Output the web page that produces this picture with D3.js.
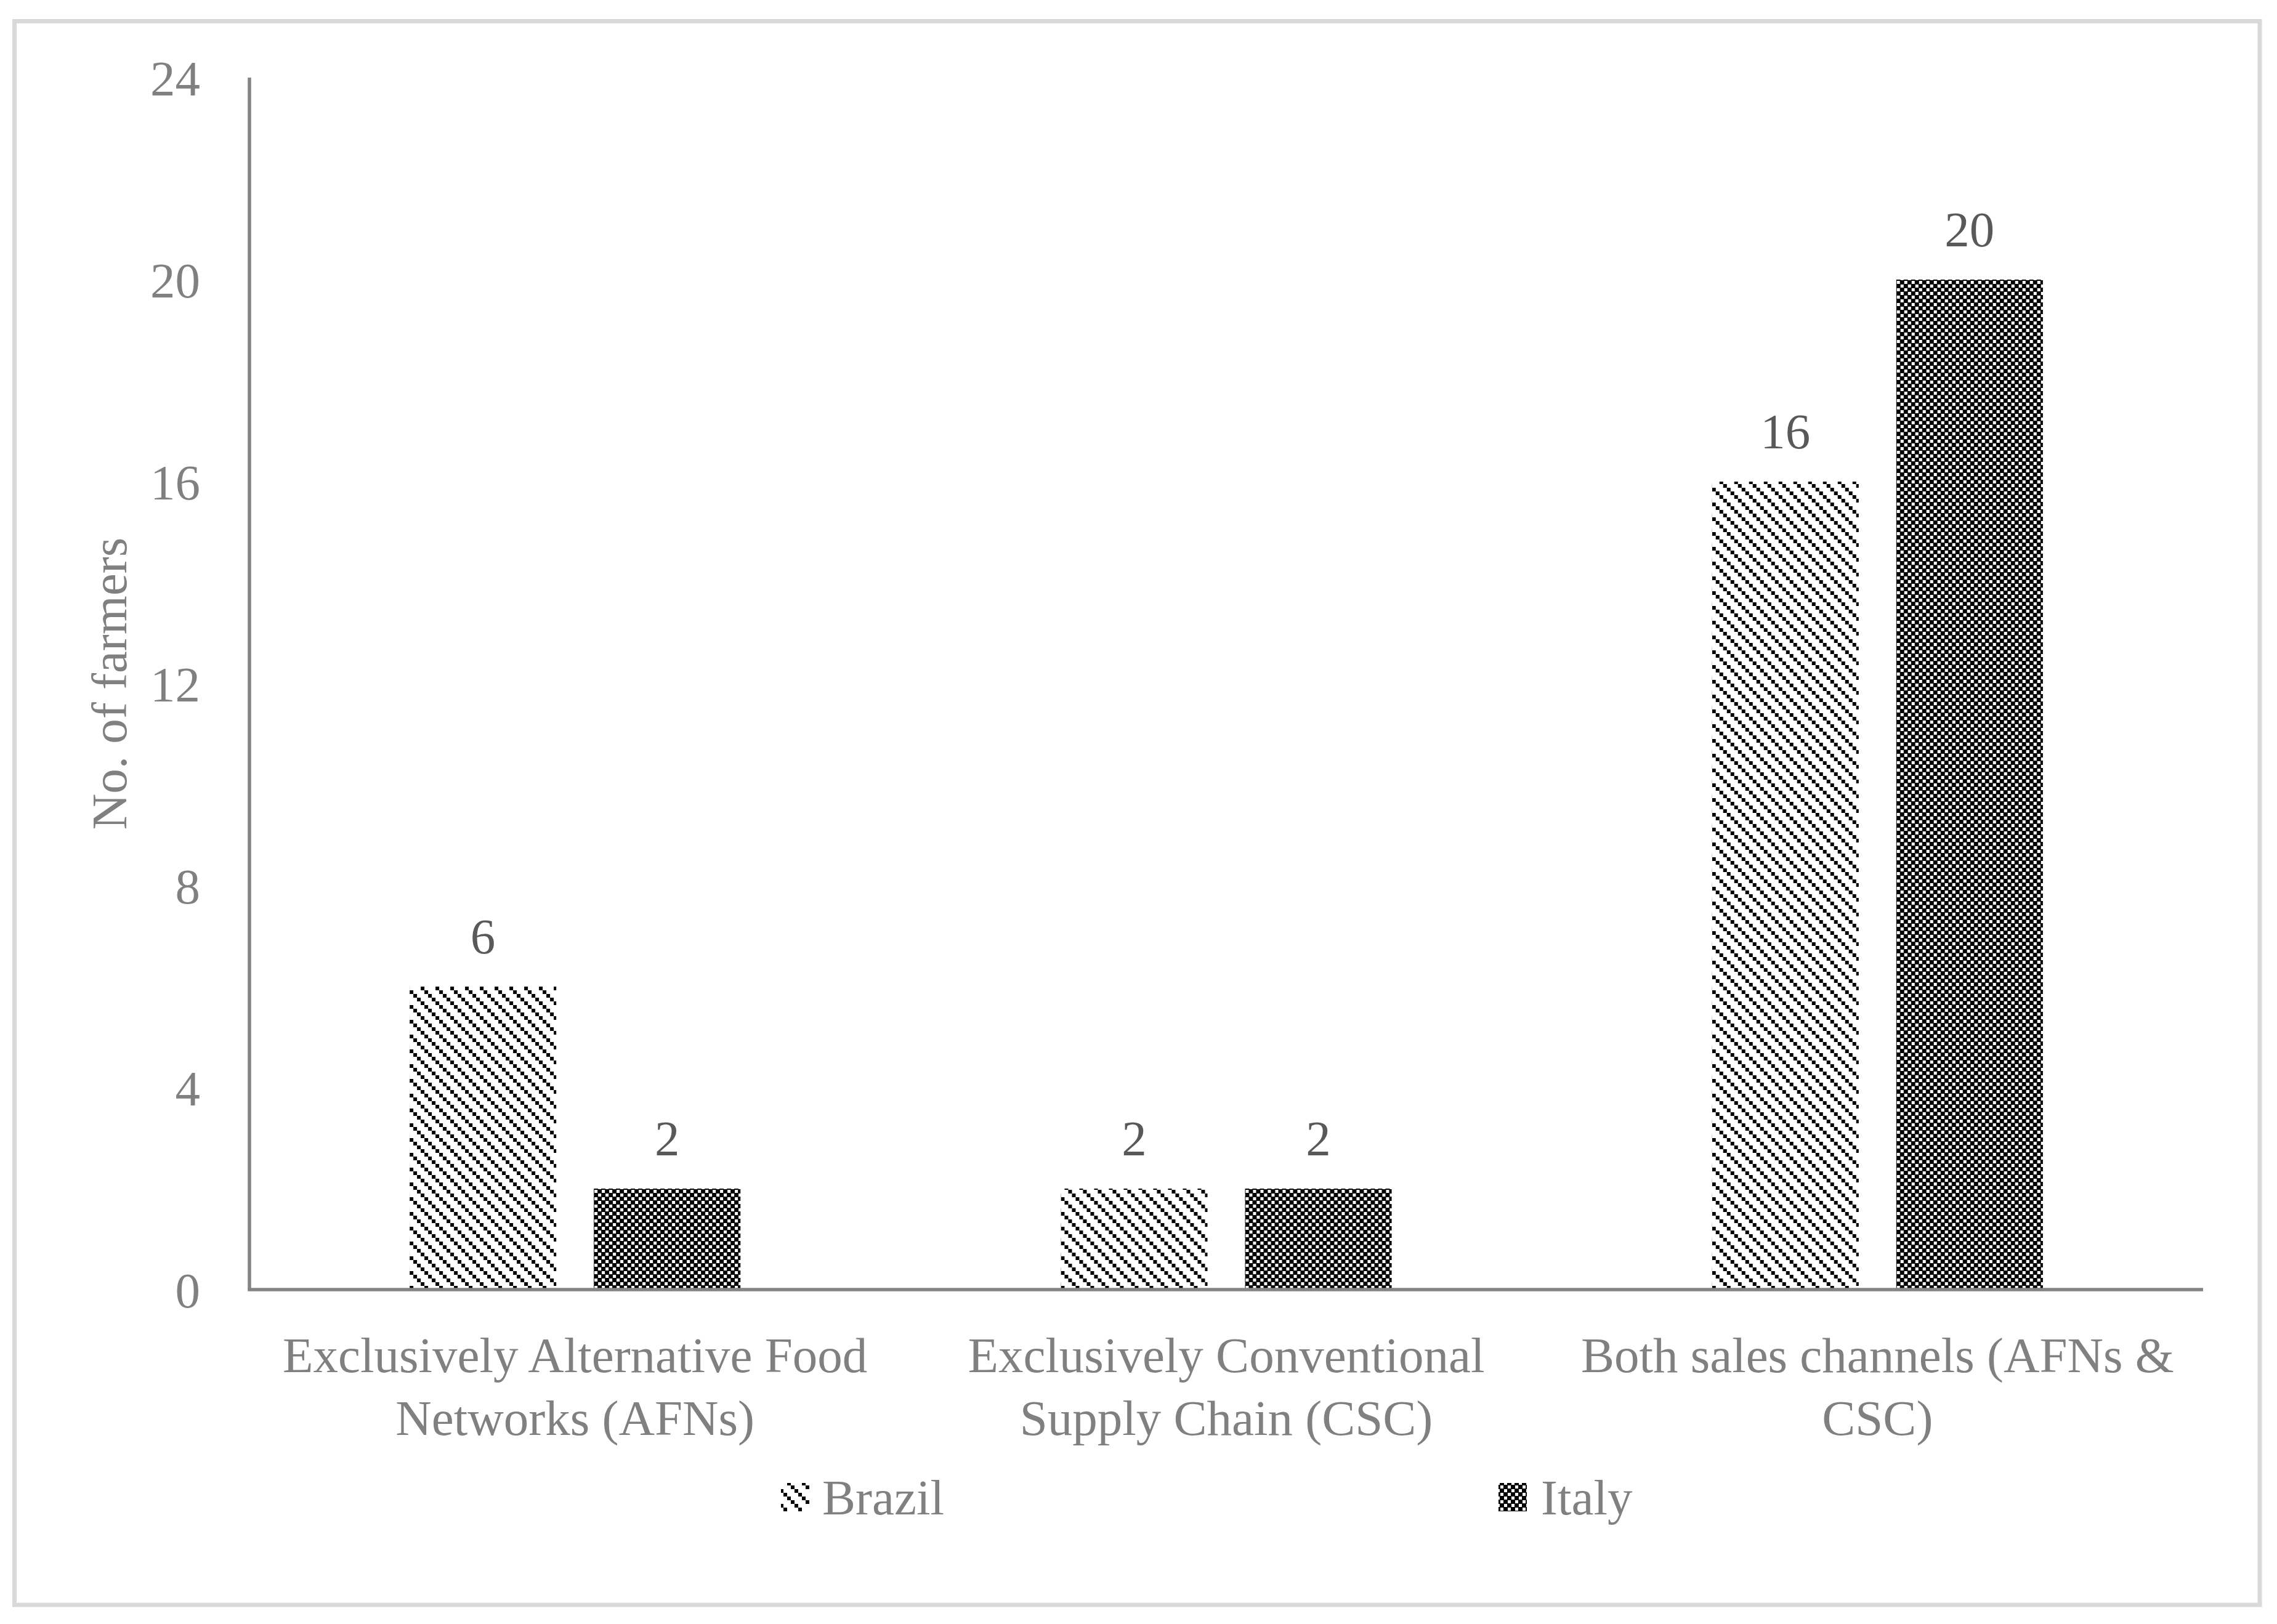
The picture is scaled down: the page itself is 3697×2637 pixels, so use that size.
<!DOCTYPE html>
<html>
<head>
<meta charset="utf-8">
<script src="https://cdn.jsdelivr.net/npm/d3@7"></script>
<style>
  html, body { margin: 0; padding: 0; background: #ffffff; }
  svg { display: block; }
</style>
</head>
<body>
<script>
// ---- data ----
const categories = [
  ["Exclusively Alternative Food", "Networks (AFNs)"],
  ["Exclusively Conventional", "Supply Chain (CSC)"],
  ["Both sales channels (AFNs &", "CSC)"]
];
const seriesNames = ["Brazil", "Italy"];
const brazilValues = [6, 2, 16];
const italyValues = [2, 2, 20];
const yTicks = [0, 4, 8, 12, 16, 20, 24];
const yTitle = "No. of farmers";

const W = 3697, H = 2637;
const FONT = "'Liberation Serif', 'Times New Roman', serif";

const svg = d3.select("body").append("svg")
  .attr("width", W).attr("height", H)
  .attr("viewBox", `0 0 ${W} ${H}`);

// patterns
const defs = svg.append("defs");
const pB = defs.append("pattern").attr("id", "patBrazil")
  .attr("patternUnits", "userSpaceOnUse").attr("width", 24).attr("height", 24);
pB.append("rect").attr("width", 24).attr("height", 24).attr("fill", "#fff");
[0, 6, 12, 18].forEach(o => {
  pB.append("rect").attr("x", o).attr("y", o).attr("width", 6).attr("height", 6)
    .attr("fill", "#000").attr("shape-rendering", "crispEdges");
});
const pI = defs.append("pattern").attr("id", "patItaly")
  .attr("patternUnits", "userSpaceOnUse").attr("width", 12).attr("height", 12);
pI.append("rect").attr("width", 12).attr("height", 12).attr("fill", "#000");
[[0, 0], [6, 6]].forEach(([x, y]) => {
  pI.append("rect").attr("x", x).attr("y", y).attr("width", 5).attr("height", 5)
    .attr("fill", "#fff").attr("shape-rendering", "crispEdges");
});
const fills = { "Brazil": "url(#patBrazil)", "Italy": "url(#patItaly)" };

// outer border
svg.append("rect")
  .attr("x", 23.5).attr("y", 34.5).attr("width", 3645.5).attr("height", 2571.5)
  .attr("fill", "none").attr("stroke", "#d9d9d9").attr("stroke-width", 7);

// scales
const plot = { left: 405, right: 3577, top: 126, bottom: 2094 };
const y = d3.scaleLinear().domain([0, 24]).range([plot.bottom, plot.top]);
const x0 = d3.scaleBand().domain(d3.range(categories.length))
  .range([plot.left, plot.right]).paddingInner(0.492).paddingOuter(0.246);
const x1 = d3.scaleBand().domain(seriesNames)
  .range([0, x0.bandwidth()]).paddingInner(0.204).paddingOuter(0);

const rows = categories.map((c, i) => ({
  i, vals: [
    { s: "Brazil", v: brazilValues[i] },
    { s: "Italy", v: italyValues[i] }
  ]
}));

// bars
const groups = svg.append("g").selectAll("g").data(rows).join("g")
  .attr("transform", d => `translate(${x0(d.i)},0)`);
groups.selectAll("rect").data(d => d.vals).join("rect")
  .attr("x", d => x1(d.s))
  .attr("y", d => y(d.v))
  .attr("width", x1.bandwidth())
  .attr("height", d => y(0) - y(d.v))
  .attr("fill", d => fills[d.s]);

// data labels
groups.selectAll("text").data(d => d.vals).join("text")
  .attr("x", d => x1(d.s) + x1.bandwidth() / 2)
  .attr("y", d => y(d.v) - 54)
  .attr("text-anchor", "middle")
  .attr("font-family", FONT).attr("font-size", 81)
  .attr("fill", "#595959")
  .text(d => d.v);

// y axis
const yAxis = d3.axisLeft(y).tickValues(yTicks).tickSize(0).tickPadding(80);
const gy = svg.append("g").attr("transform", `translate(${plot.left},0)`).call(yAxis);
gy.select(".domain").attr("stroke", "#848484").attr("stroke-width", 5.5)
  .attr("d", `M0,${plot.top}V${plot.bottom}`);
gy.selectAll(".tick text")
  .attr("font-family", FONT).attr("font-size", 81).attr("fill", "#808080")
  .attr("dy", "0.35em");

// x axis
const xAxis = d3.axisBottom(d3.scaleLinear().domain([0, 1]).range([plot.left, plot.right]))
  .tickValues([]).tickSize(0);
const gx = svg.append("g").attr("transform", `translate(0,${plot.bottom})`).call(xAxis);
gx.select(".domain").attr("stroke", "#848484").attr("stroke-width", 5.5)
  .attr("d", `M${plot.left - 2.75},0H${plot.right}`);

// category labels
const catG = svg.append("g");
rows.forEach(r => {
  const t = catG.append("text")
    .attr("x", x0(r.i) + x0.bandwidth() / 2)
    .attr("y", 2228)
    .attr("text-anchor", "middle")
    .attr("font-family", FONT).attr("font-size", 81).attr("fill", "#808080");
  categories[r.i].forEach((line, k) => {
    t.append("tspan").attr("x", x0(r.i) + x0.bandwidth() / 2)
      .attr("dy", k === 0 ? 0 : 102).text(line);
  });
});

// y title
svg.append("text")
  .attr("transform", `translate(205,${(plot.top + plot.bottom) / 2}) rotate(-90)`)
  .attr("text-anchor", "middle")
  .attr("font-family", FONT).attr("font-size", 81).attr("fill", "#808080")
  .text(yTitle);

// legend
const legendItems = [
  { s: "Brazil", sx: 1268, tx: 1335 },
  { s: "Italy", sx: 2433, tx: 2502 }
];
const lg = svg.append("g");
legendItems.forEach(li => {
  lg.append("rect").attr("x", li.sx).attr("y", 2408).attr("width", 46).attr("height", 46)
    .attr("fill", fills[li.s]);
  lg.append("text").attr("x", li.tx).attr("y", 2431).attr("dy", "0.35em")
    .attr("font-family", FONT).attr("font-size", 81).attr("fill", "#808080")
    .text(li.s);
});
</script>
</body>
</html>
